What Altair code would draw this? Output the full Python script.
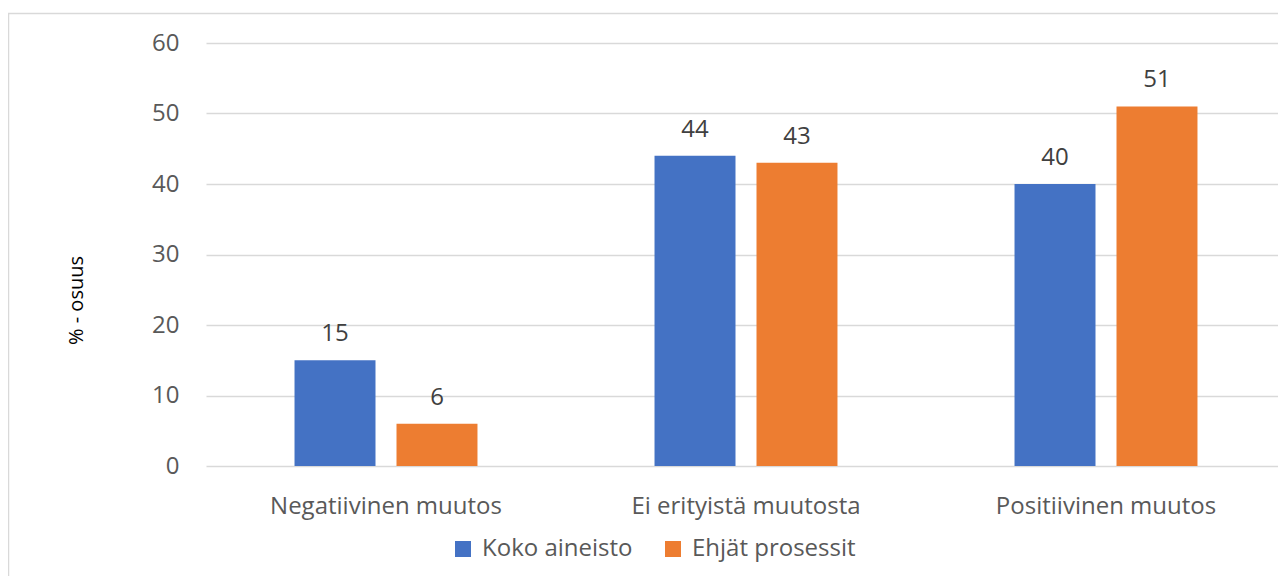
import altair as alt
import pandas as pd

categories = ["Negatiivinen muutos", "Ei erityistä muutosta", "Positiivinen muutos"]
series = ["Koko aineisto", "Ehjät prosessit"]
koko_aineisto = [15, 44, 40]
ehjat_prosessit = [6, 43, 51]
colors = ["#4472C4", "#ED7D31"]
y_ticks = [0, 10, 20, 30, 40, 50, 60]

rows = []
for c, a, b in zip(categories, koko_aineisto, ehjat_prosessit):
    rows.append({"kategoria": c, "sarja": series[0], "arvo": a})
    rows.append({"kategoria": c, "sarja": series[1], "arvo": b})
df = pd.DataFrame(rows)

FONT = "Open Sans"

x_enc = alt.X("kategoria:N", sort=categories,
              scale=alt.Scale(paddingInner=0, paddingOuter=0),
              axis=alt.Axis(title=None, labelAngle=0, grid=False, domain=False,
                            ticks=False, labelPadding=28, labelLimit=0))
xoff_enc = alt.XOffset("sarja:N", sort=series,
                       scale=alt.Scale(paddingInner=0.206, paddingOuter=0.868))
y_enc = alt.Y("arvo:Q", scale=alt.Scale(domain=[0, 60], nice=False),
              axis=alt.Axis(values=y_ticks, title="% - osuus", grid=True,
                            gridColor="#d9d9d9", gridWidth=1.5, domain=False,
                            ticks=False, labelPadding=27,
                            titleFont=FONT, titleFontSize=20, titleColor="#000000",
                            titleFontWeight="normal", titleX=-124, titleY=257,
                            titleAngle=-90, titleAlign="center",
                            titleBaseline="alphabetic"))

bars = alt.Chart(df).mark_bar().encode(
    x=x_enc,
    xOffset=xoff_enc,
    y=y_enc,
    color=alt.Color("sarja:N", sort=series,
                    scale=alt.Scale(domain=series, range=colors),
                    legend=alt.Legend(title=None, orient="none", legendX=245,
                                      legendY=494, direction="horizontal",
                                      symbolType="square", symbolSize=256,
                                      symbolStrokeWidth=0, labelFont=FONT,
                                      labelFontSize=24, labelColor="#595959",
                                      columnPadding=28, labelOffset=7,
                                      labelLimit=0)),
)

labels = alt.Chart(df).mark_text(baseline="alphabetic", dy=-19, font=FONT,
                                 fontSize=24, color="#404040").encode(
    x=alt.X("kategoria:N", sort=categories),
    xOffset=alt.XOffset("sarja:N", sort=series),
    y=alt.Y("arvo:Q"),
    text=alt.Text("arvo:Q"),
)

frame = alt.Chart(pd.DataFrame({"k": [0]})).mark_rect(
    filled=False, stroke="#d9d9d9", strokeWidth=1.5).encode(
    x=alt.value(-197.5), x2=alt.value(1300),
    y=alt.value(-29.5), y2=alt.value(700),
)

chart = alt.layer(frame, bars, labels).properties(
    width=1080, height=423,
    autosize=alt.AutoSizeParams(type="none"),
    padding={"left": 198, "top": 35, "right": -8, "bottom": 110},
).configure_view(stroke=None).configure_axis(
    labelFont=FONT, labelFontSize=24, labelColor="#595959",
)

chart.save("out.html", embed_options={"renderer": "svg", "actions": False})
